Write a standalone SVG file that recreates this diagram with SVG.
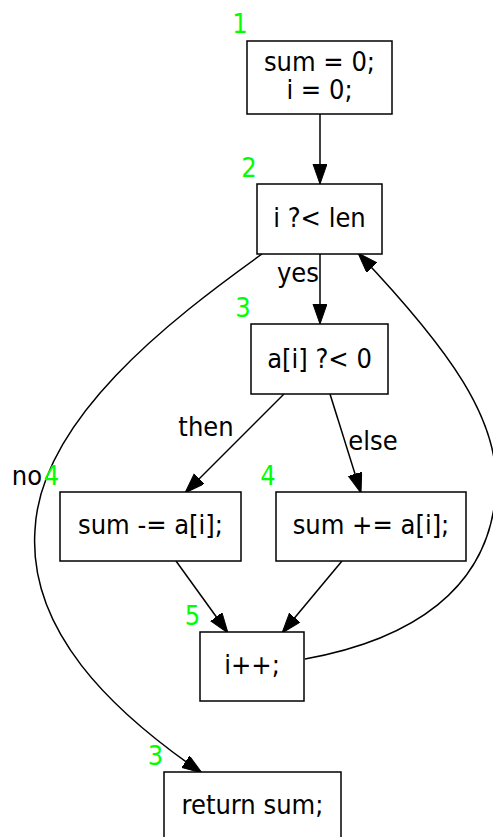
<svg xmlns="http://www.w3.org/2000/svg" width="493" height="837" viewBox="0 0 493 837">
<style>
  .n { fill: #ffffff; stroke: #000000; stroke-width: 1.5; }
  .t { font-family: "DejaVu Sans Condensed", "DejaVu Sans", sans-serif; font-size: 27px; fill: #000000; text-anchor: middle; }
  .l { font-family: "DejaVu Sans Condensed", "DejaVu Sans", sans-serif; font-size: 27px; fill: #000000; text-anchor: middle; }
  .g { font-family: "DejaVu Sans Condensed", "DejaVu Sans", sans-serif; font-size: 27px; fill: #00ff00; text-anchor: middle; }
  .e { fill: none; stroke: #000000; stroke-width: 1.5; marker-end: url(#arr); }
</style>
<defs>
  <marker id="arr" markerUnits="userSpaceOnUse" markerWidth="21" markerHeight="15" refX="20" refY="7" orient="auto">
    <path d="M0,0 L20,7 L0,14 z" fill="#000000" stroke="#000000" stroke-width="1"/>
  </marker>
</defs>
<rect width="493" height="837" fill="#ffffff"/>
<g id="edges">
  <path class="e" d="M320,114 L320,184"/>
  <path class="e" d="M320,254 L320,324"/>
  <path class="e" d="M284,394 L185,493"/>
  <path class="e" d="M330,394 L361,493"/>
  <path class="e" d="M176,561 L228,633"/>
  <path class="e" d="M342,561 L282,633"/>
  <path class="e" d="M305,659 C410,640 490,590 496,490 C500,420 450,350 358,253"/>
  <path class="e" d="M262,254 C170,320 40,420 35,530 C28,630 110,710 202,773"/>
  <text class="l" x="298" y="282">yes</text>
  <text class="l" x="206" y="436">then</text>
  <text class="l" x="373" y="450">else</text>
  <text class="l" x="27" y="485">no</text>
</g>
<g id="n1">
  <rect class="n" x="247" y="41" width="145" height="73"/>
  <text class="t" x="319.5" y="71">sum = 0;</text>
  <text class="t" x="319.5" y="99">i = 0;</text>
  <text class="g" x="240" y="33">1</text>
</g>
<g id="n2">
  <rect class="n" x="257" y="184" width="125" height="70"/>
  <text class="t" x="319.5" y="227">i ?&lt; len</text>
  <text class="g" x="249" y="177">2</text>
</g>
<g id="n3">
  <rect class="n" x="251" y="324" width="137" height="70"/>
  <text class="t" x="319.5" y="368">a[i] ?&lt; 0</text>
  <text class="g" x="243" y="317">3</text>
</g>
<g id="n4a">
  <rect class="n" x="60" y="492" width="181" height="69"/>
  <text class="t" x="150.5" y="534">sum -= a[i];</text>
  <text class="g" x="51.5" y="485">4</text>
</g>
<g id="n4b">
  <rect class="n" x="276" y="492" width="190" height="69"/>
  <text class="t" x="371" y="534">sum += a[i];</text>
  <text class="g" x="268" y="485">4</text>
</g>
<g id="n5">
  <rect class="n" x="200" y="632" width="104" height="69"/>
  <text class="t" x="252" y="674">i++;</text>
  <text class="g" x="192.5" y="625">5</text>
</g>
<g id="n6">
  <rect class="n" x="164" y="772" width="177" height="70"/>
  <text class="t" x="252.5" y="814">return sum;</text>
  <text class="g" x="155.5" y="765">3</text>
</g>
</svg>
